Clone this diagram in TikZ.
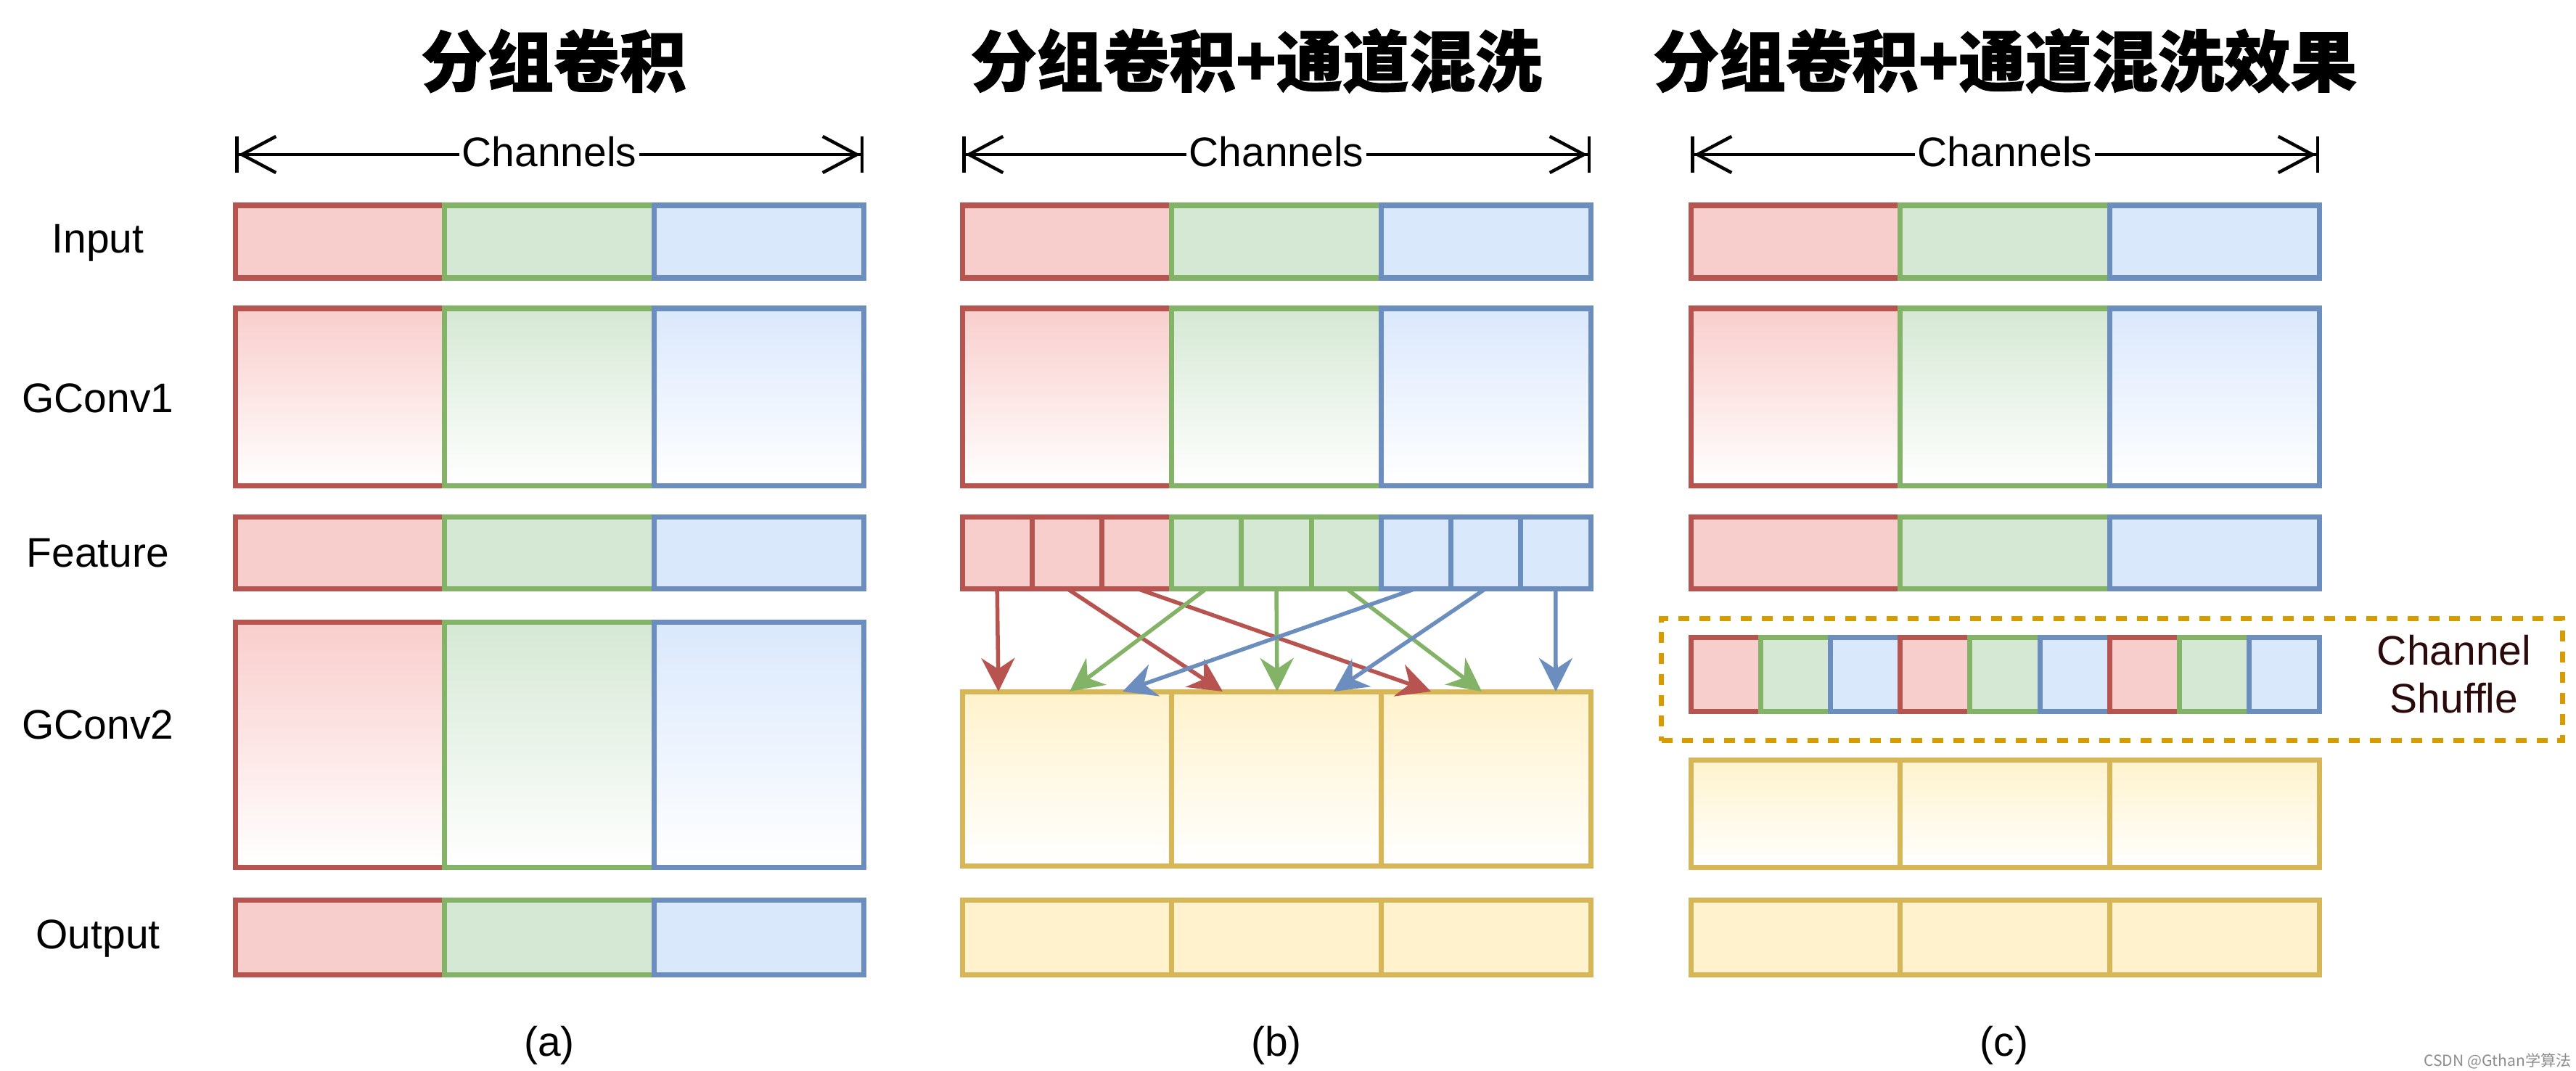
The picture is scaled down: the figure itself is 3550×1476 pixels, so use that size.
\documentclass[tikz,border=0pt]{standalone}
\usepackage{fontspec}
\setmainfont{Liberation Sans}
\newfontfamily\cjk{Noto Sans CJK SC}[BoldFeatures={FakeBold=1.2}]
\newfontfamily\cjkwm{Noto Sans CJK SC}
\usetikzlibrary{arrows.meta}
\definecolor{rS}{HTML}{B85450}\definecolor{rF}{HTML}{F8CECC}
\definecolor{gS}{HTML}{82B366}\definecolor{gF}{HTML}{D5E8D4}
\definecolor{bS}{HTML}{6C8EBF}\definecolor{bF}{HTML}{DAE8FC}
\definecolor{yS}{HTML}{D6B656}\definecolor{yF}{HTML}{FFF2CC}
\definecolor{oS}{HTML}{D79B00}\definecolor{shufT}{HTML}{2A0A0A}
\tikzset{
  box/.style={draw, line width=0.07cm, anchor=north west, inner sep=0pt, outer sep=0pt, minimum width=2.8867cm},
  cellbox/.style={box, minimum width=0.9622cm},
  rfill/.style={draw=rS, fill=rF}, gfill/.style={draw=gS, fill=gF},
  bfill/.style={draw=bS, fill=bF}, yfill/.style={draw=yS, fill=yF},
  rgrad/.style={draw=rS, top color=rF, bottom color=white},
  ggrad/.style={draw=gS, top color=gF, bottom color=white},
  bgrad/.style={draw=bS, top color=bF, bottom color=white},
  ygrad/.style={draw=yS, top color=yF, bottom color=white},
  lbl/.style={font=\fontsize{16.2}{19}\selectfont, inner sep=0pt},
  ttl/.style={font=\cjk\bfseries\fontsize{26}{30}\selectfont, inner sep=0pt},
  dim/.style={line width=0.045cm, {Bar[width=0.5cm]Straight Barb[length=0.47cm,width=0.5cm]}-{Straight Barb[length=0.47cm,width=0.5cm]Bar[width=0.5cm]}},
  chl/.style={lbl, fill=white, inner xsep=1pt},
  conn/.style={line width=0.055cm, -{Stealth[length=0.46cm,width=0.46cm,inset=0.15cm]}},
}
% name, x0, y0, height, style1, style2, style3
\newcommand\tri[7]{%
  \node[box,#5,minimum height=#4*0.01cm] (#1-1) at (#2,#3) {};
  \node[box,#6,minimum height=#4*0.01cm] (#1-2) at (#2+288.67,#3) {};
  \node[box,#7,minimum height=#4*0.01cm] (#1-3) at (#2+577.33,#3) {};}
\begin{document}
\begin{tikzpicture}[x=0.01cm, y=-0.01cm]
\useasboundingbox (0,0) rectangle (3550,1476);
% titles
\node[ttl] (t1) at (763,84) {分组卷积};
\node[ttl] (t2) at (1731,84) {分组卷积+通道混洗};
\node[ttl] (t3) at (2763,84) {分组卷积+通道混洗效果};
% channel dimension lines
\coordinate (aL) at (324,213); \coordinate (aR) at (1190,213);
\coordinate (bL) at (1326,213); \coordinate (bR) at (2192,213);
\coordinate (cL) at (2330,213); \coordinate (cR) at (3196,213);
\draw[dim] (aL) -- (aR);
\draw[dim] (bL) -- (bR);
\draw[dim] (cL) -- (cR);
\node[chl] (cha) at (757,209) {Channels};
\node[chl] (chb) at (1759,209) {Channels};
\node[chl] (chc) at (2763,209) {Channels};
% row labels
\node[lbl, anchor=base] (lin) at (135,348) {Input};
\node[lbl, anchor=base] (lg1) at (135,568) {GConv1};
\node[lbl, anchor=base] (lfe) at (135,781) {Feature};
\node[lbl, anchor=base] (lg2) at (135,1018) {GConv2};
\node[lbl, anchor=base] (lout) at (135,1307) {Output};
% panel (a)
\tri{ain}{324}{283}{100}{rfill}{gfill}{bfill}
\tri{ag1}{324}{425}{244}{rgrad}{ggrad}{bgrad}
\tri{afe}{324}{712}{99}{rfill}{gfill}{bfill}
\tri{ag2}{324}{857}{338}{rgrad}{ggrad}{bgrad}
\tri{aout}{324}{1240}{103}{rfill}{gfill}{bfill}
% panel (b)
\tri{bin}{1326}{283}{100}{rfill}{gfill}{bfill}
\tri{bg1}{1326}{425}{244}{rgrad}{ggrad}{bgrad}
\node[cellbox,rfill,minimum height=0.99cm] (bf0) at (1326,712) {};
\node[cellbox,rfill,minimum height=0.99cm] (bf1) at (1422.22,712) {};
\node[cellbox,rfill,minimum height=0.99cm] (bf2) at (1518.44,712) {};
\node[cellbox,gfill,minimum height=0.99cm] (bf3) at (1614.67,712) {};
\node[cellbox,gfill,minimum height=0.99cm] (bf4) at (1710.89,712) {};
\node[cellbox,gfill,minimum height=0.99cm] (bf5) at (1807.11,712) {};
\node[cellbox,bfill,minimum height=0.99cm] (bf6) at (1903.33,712) {};
\node[cellbox,bfill,minimum height=0.99cm] (bf7) at (1999.56,712) {};
\node[cellbox,bfill,minimum height=0.99cm] (bf8) at (2095.78,712) {};
\tri{bg2}{1326}{953}{240}{ygrad}{ygrad}{ygrad}
\tri{bout}{1326}{1240}{103}{yfill}{yfill}{yfill}
% arrow targets on the top edge of GConv2 (b)
\coordinate (e0) at (1376,953); \coordinate (e1) at (1474,953);
\coordinate (e2) at (1547,953); \coordinate (e3) at (1685,953);
\coordinate (e4) at (1760,953); \coordinate (e5) at (1838,953);
\coordinate (e6) at (1972,953); \coordinate (e7) at (2042,953);
\coordinate (e8) at (2144,953);
\foreach \s/\t/\col in {0/0/rS,1/3/rS,2/6/rS,3/1/gS,4/4/gS,5/7/gS,6/2/bS,7/5/bS,8/8/bS}
  \draw[conn,draw=\col,fill=\col] (bf\s.south) -- (e\t);
% panel (c)
\tri{cin}{2330}{283}{100}{rfill}{gfill}{bfill}
\tri{cg1}{2330}{425}{244}{rgrad}{ggrad}{bgrad}
\tri{cfe}{2330}{712}{99}{rfill}{gfill}{bfill}
\node[draw=oS, line width=0.07cm, dash pattern=on 0.15cm off 0.137cm, minimum width=12.41cm, minimum height=1.68cm, inner sep=0pt, anchor=north west] (shbox) at (2286,849) {};
\node[cellbox,rfill,minimum height=1.02cm] (cs0) at (2330,878) {};
\node[cellbox,gfill,minimum height=1.02cm] (cs1) at (2426.22,878) {};
\node[cellbox,bfill,minimum height=1.02cm] (cs2) at (2522.44,878) {};
\node[cellbox,rfill,minimum height=1.02cm] (cs3) at (2618.67,878) {};
\node[cellbox,gfill,minimum height=1.02cm] (cs4) at (2714.89,878) {};
\node[cellbox,bfill,minimum height=1.02cm] (cs5) at (2811.11,878) {};
\node[cellbox,rfill,minimum height=1.02cm] (cs6) at (2907.33,878) {};
\node[cellbox,gfill,minimum height=1.02cm] (cs7) at (3003.56,878) {};
\node[cellbox,bfill,minimum height=1.02cm] (cs8) at (3099.78,878) {};
\node[lbl, text=shufT, align=center, font=\fontsize{16.2}{18.8}\selectfont] (shl) at (3382,929) {Channel\\Shuffle};
\tri{cg2}{2330}{1047}{148}{ygrad}{ygrad}{ygrad}
\tri{cout}{2330}{1240}{103}{yfill}{yfill}{yfill}
% captions
\node[lbl, anchor=base] (capa) at (757,1455) {(a)};
\node[lbl, anchor=base] (capb) at (1759,1455) {(b)};
\node[lbl, anchor=base] (capc) at (2762,1455) {(c)};
\node[font=\cjkwm\fontsize{6}{7}\selectfont, text=black!45, inner sep=0pt] (wm) at (3442,1462) {CSDN @Gthan学算法};
\end{tikzpicture}
\end{document}
